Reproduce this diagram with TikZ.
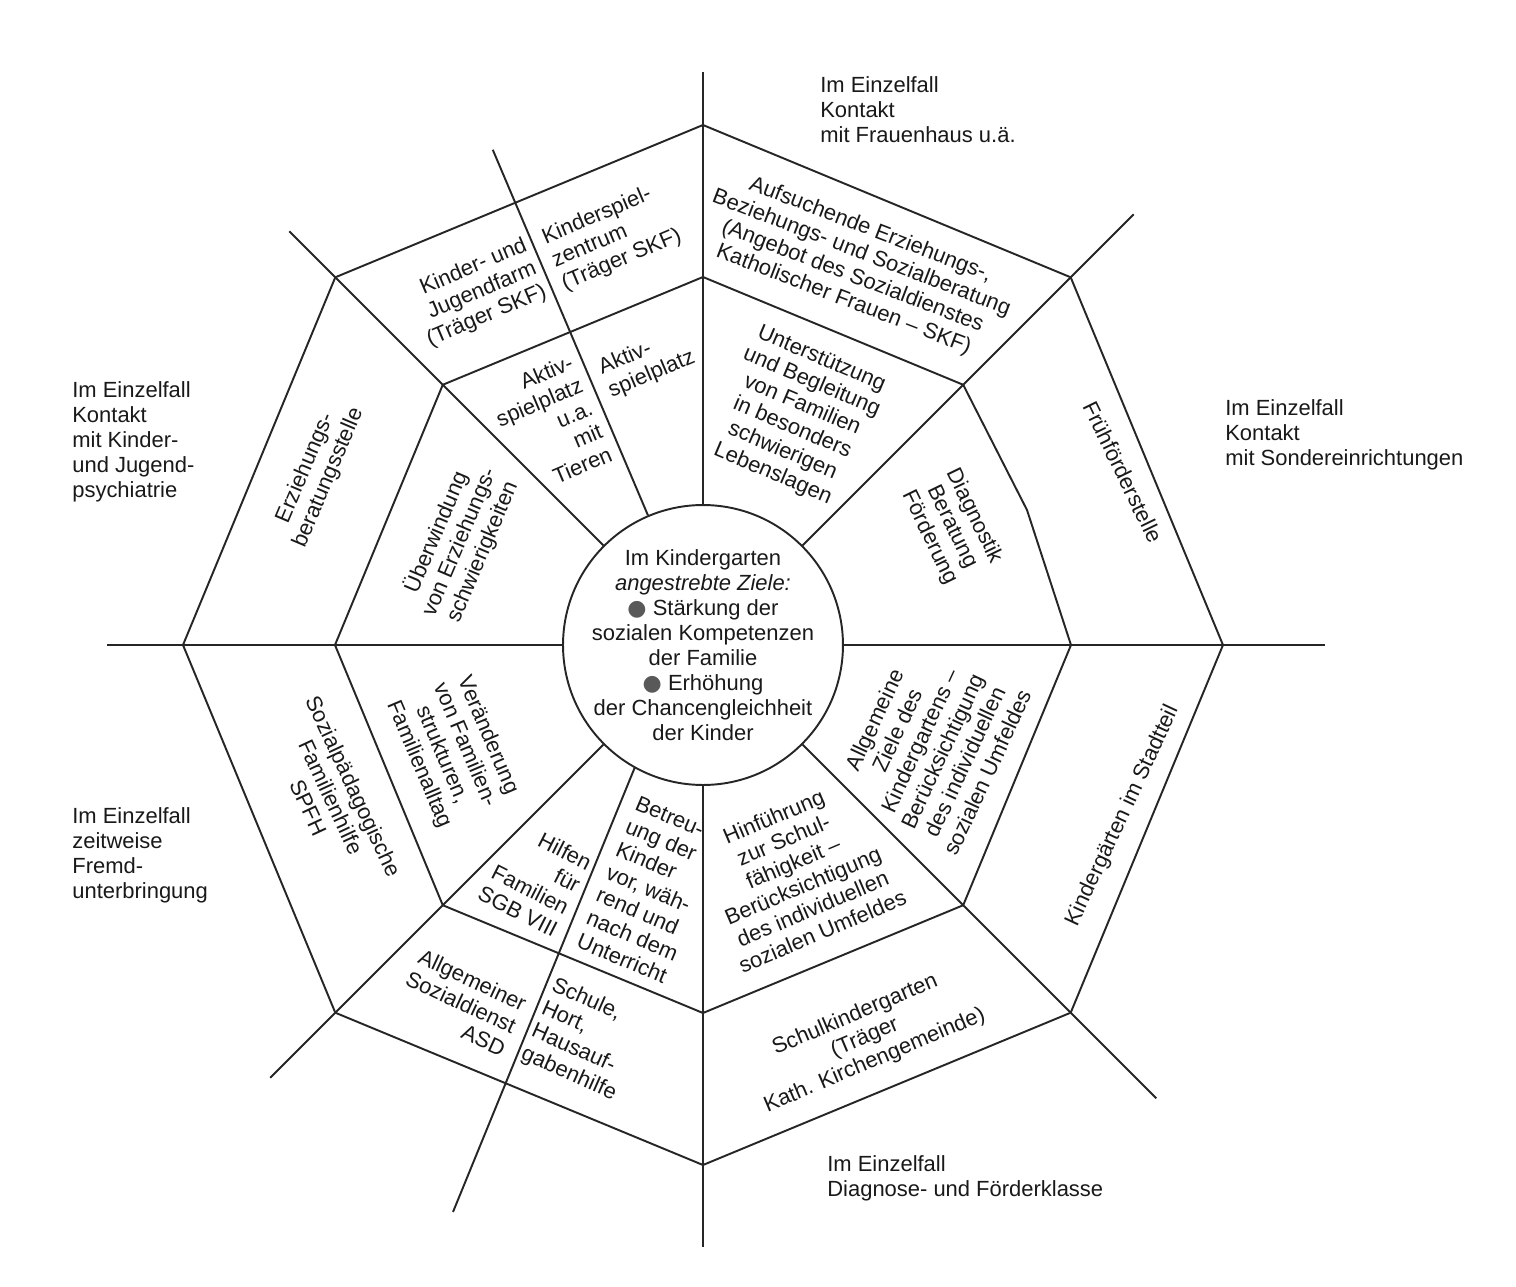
\documentclass[tikz,border=0pt]{standalone}
\usepackage{fontspec}
\setmainfont{Liberation Sans}
\newfontfamily\dotfont{DejaVu Sans}
\usetikzlibrary{positioning}
\newcommand{\WebHub}{140}
\newcommand{\WebInner}{368}
\newcommand{\WebOuter}{520}
\newcommand{\goal}{{\color{black!65}\dotfont ●}\ }

\begin{document}
\begin{tikzpicture}[x=0.02cm, y=0.02cm,
		web/.style={draw=black!85, line width=1.1pt},
		lbl/.style={font=\fontsize{12.5}{14.2}\selectfont, text=black!90, inner sep=0pt},
		field/.style={lbl, align=center},
		note/.style={lbl, align=left, anchor=north west}]
	\useasboundingbox (-703,-641) rectangle (813,645);
	% hub, spokes and the two octagons
	\node[web, circle, minimum size=5.6cm, inner sep=0pt] (hub) at (0,0) {};
	\foreach \a in {0,45,...,315} {
		\coordinate (in\a) at (\a:\WebInner);
		\coordinate (out\a) at (\a:\WebOuter);
	}
	\foreach \a/\len in {0/622,45/609,90/573,113/538,135/585,180/596,225/612,270/602,315/641} {
		\coordinate (end\a) at (\a:\len);
		\draw[web] (hub.\a) -- (end\a);
	}
	\coordinate (foot246) at (-68,-122);
	\coordinate (end246) at (-250,-567);
	\draw[web] (foot246) -- (end246);
	\coordinate (bend) at (324,135);
	\draw[web] (in0) -- (bend) -- (in45) -- (in90) -- (in135) -- (in180) -- (in225) -- (in270) -- (in315) -- cycle;
	\draw[web] (out0) -- (out45) -- (out90) -- (out135) -- (out180) -- (out225) -- (out270) -- (out315) -- cycle;

	% centre
	\node[field] (goals) at (hub.center) {Im Kindergarten\\\textit{angestrebte Ziele:}\\\goal Stärkung der\\sozialen Kompetenzen\\der Familie\\\goal Erhöhung\\der Chancengleichheit\\der Kinder};

	% inner ring
	\node[field, rotate=-23] (support) at (94,228) {Unterstützung\\und Begleitung\\von Familien\\in besonders\\schwierigen\\Lebenslagen};
	\node[field, rotate=-64] (diagnostics) at (249,118) {Diagnostik\\Beratung\\Förderung};
	\node[field, rotate=65] (aims) at (228,-101) {Allgemeine\\Ziele des\\Kindergartens –\\Berücksichtigung\\des individuellen\\sozialen Umfeldes};
	\node[field, rotate=23] (schoolready) at (95,-229) {Hinführung\\zur Schul-\\fähigkeit –\\Berücksichtigung\\des individuellen\\sozialen Umfeldes};
	\node[lbl, align=left, rotate=-23] (care) at (-51,-245) {Betreu-\\ung der\\Kinder\\vor, wäh-\\rend und\\nach dem\\Unterricht};
	\node[lbl, align=right, rotate=-27] (aid) at (-168,-233) {Hilfen\\für\\Familien\\SGB VIII};
	\node[field, rotate=-67] (change) at (-250,-105) {Veränderung\\von Familien-\\strukturen,\\Familienalltag};
	\node[field, rotate=67] (overcome) at (-244,103) {Überwindung\\von Erziehungs-\\schwierigkeiten};
	\node[lbl, align=right, rotate=23] (playanimals) at (-154,220) {Aktiv-\\spielplatz\\u.a.\\mit\\Tieren};
	\node[lbl, align=left, rotate=23] (play) at (-56,282) {Aktiv-\\spielplatz};

	% outer ring
	\node[field, rotate=-21] (outreach) at (154,380) {Aufsuchende Erziehungs-,\\Beziehungs- und Sozialberatung\\(Angebot des Sozialdienstes\\Katholischer Frauen – SKF)};
	\node[field, rotate=-64] (early) at (420,173) {Frühförderstelle};
	\node[field, rotate=65] (district) at (420,-171) {Kindergärten im Stadtteil};
	\node[field, rotate=23] (schoolkiga) at (162,-393) {Schulkindergarten\\(Träger\\Kath. Kirchengemeinde)};
	\node[lbl, align=left, rotate=-24] (school) at (-119,-395) {Schule,\\Hort,\\Hausauf-\\gabenhilfe};
	\node[lbl, align=right, rotate=-25] (asd) at (-242,-357) {Allgemeiner\\Sozialdienst\\ASD};
	\node[field, rotate=-65] (spfh) at (-372,-152) {Sozialpädagogische\\Familienhilfe\\SPFH};
	\node[field, rotate=67] (counsel) at (-386,172) {Erziehungs-\\beratungsstelle};
	\node[lbl, align=right, rotate=23] (farm) at (-226,352) {Kinder- und\\Jugendfarm\\(Träger SKF)};
	\node[lbl, align=left, rotate=23] (playcentre) at (-91,408) {Kinderspiel-\\zentrum\\(Träger SKF)};

	% single cases outside the web
	\node[note] (shelter) at (117,569) {Im Einzelfall\\Kontakt\\mit Frauenhaus u.ä.};
	\node[note] (special) at (522,246) {Im Einzelfall\\Kontakt\\mit Sondereinrichtungen};
	\node[note] (psych) at (-631,264) {Im Einzelfall\\Kontakt\\mit Kinder-\\und Jugend-\\psychiatrie};
	\node[note] (foster) at (-631,-162) {Im Einzelfall\\zeitweise\\Fremd-\\unterbringung};
	\node[note] (remedial) at (124,-510) {Im Einzelfall\\Diagnose- und Förderklasse};
\end{tikzpicture}
\end{document}
